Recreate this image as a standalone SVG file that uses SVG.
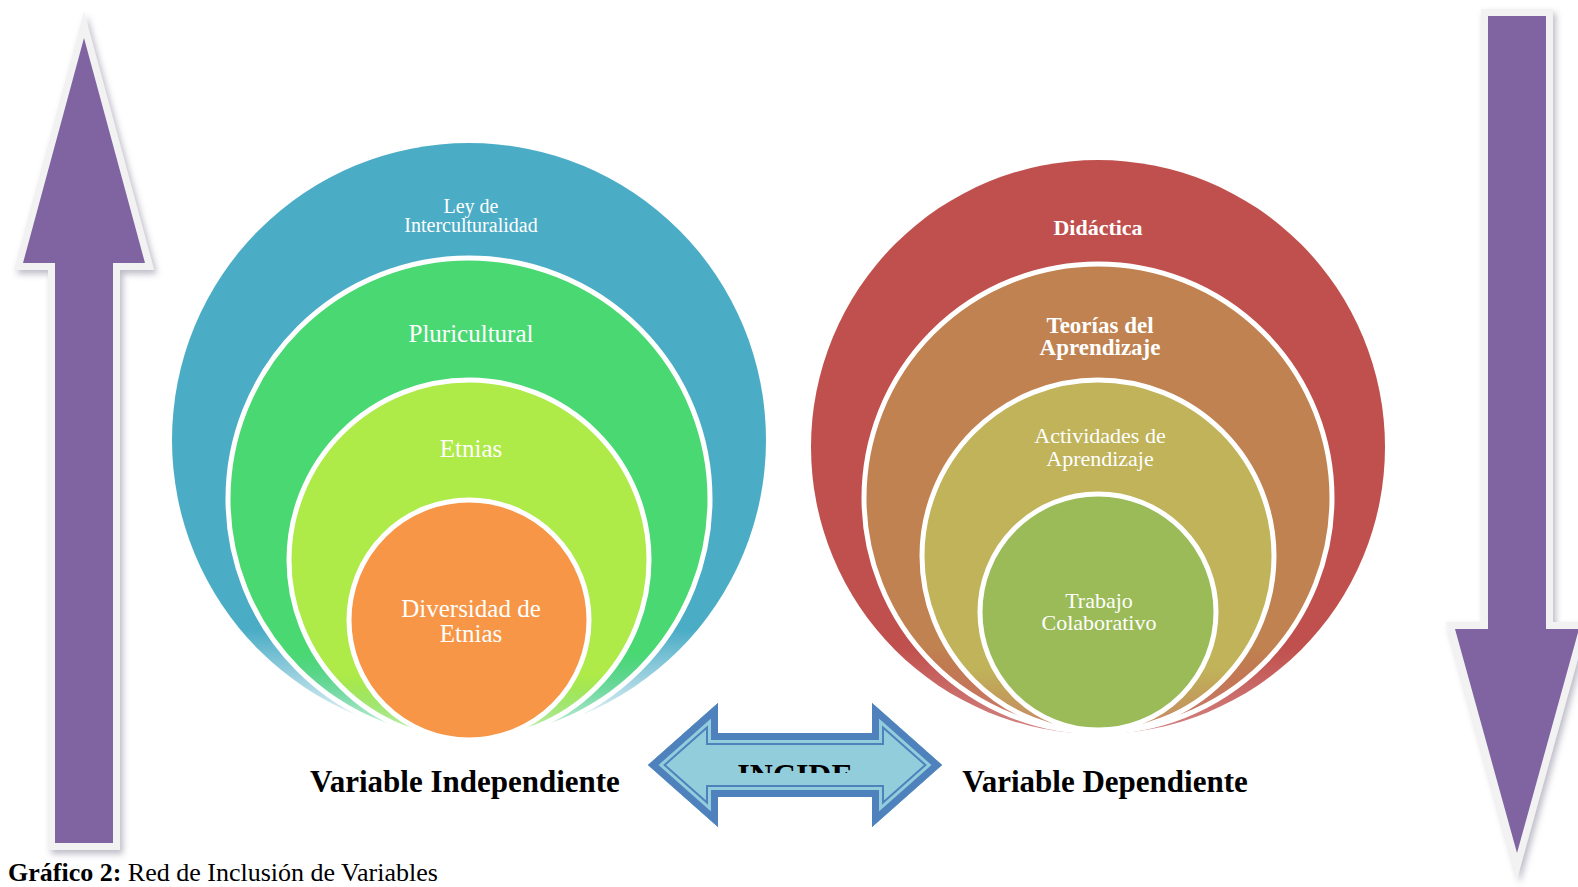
<svg xmlns="http://www.w3.org/2000/svg" width="1578" height="887" viewBox="0 0 1578 887">
<style>
.lbl{font-family:"Liberation Serif","Times New Roman",serif;fill:#ffffff;text-anchor:middle}
.b{font-weight:bold}
.var{font-family:"Liberation Serif","Times New Roman",serif;font-weight:bold;font-size:31px;fill:#000;text-anchor:middle}
.cap{font-family:"Liberation Serif","Times New Roman",serif;font-size:26px;fill:#000}
.ring{stroke:#ffffff;stroke-width:5}
.edge{stroke:#f2f2f2;stroke-width:14;stroke-linejoin:miter;stroke-miterlimit:10;fill:#f2f2f2}
.body{fill:#8064a2}
</style>
<defs>
<filter id="sh" x="-20%" y="-5%" width="150%" height="110%">
<feDropShadow dx="3" dy="4" stdDeviation="3" flood-color="#6e6a85" flood-opacity="0.45"/>
</filter>
<linearGradient id="gBlue" x1="0" y1="0" x2="0" y2="1"><stop offset="0" stop-color="#4bacc6"/><stop offset="0.82" stop-color="#4bacc6"/><stop offset="1" stop-color="#4bacc6" stop-opacity="0"/></linearGradient>
<linearGradient id="gGreen" x1="0" y1="0" x2="0" y2="1"><stop offset="0" stop-color="#4ad873"/><stop offset="0.82" stop-color="#4ad873"/><stop offset="1" stop-color="#4ad873" stop-opacity="0.1"/></linearGradient>
<linearGradient id="gLime" x1="0" y1="0" x2="0" y2="1"><stop offset="0" stop-color="#aeea48"/><stop offset="0.82" stop-color="#aeea48"/><stop offset="1" stop-color="#aeea48" stop-opacity="0.2"/></linearGradient>
<linearGradient id="gRed" x1="0" y1="0" x2="0" y2="1"><stop offset="0" stop-color="#c0504d"/><stop offset="0.85" stop-color="#c0504d"/><stop offset="1" stop-color="#c0504d" stop-opacity="0.7"/></linearGradient>
<linearGradient id="gBrown" x1="0" y1="0" x2="0" y2="1"><stop offset="0" stop-color="#c08250"/><stop offset="0.82" stop-color="#c08250"/><stop offset="1" stop-color="#c08250" stop-opacity="0.1"/></linearGradient>
<linearGradient id="gOlive" x1="0" y1="0" x2="0" y2="1"><stop offset="0" stop-color="#c0b35a"/><stop offset="0.82" stop-color="#c0b35a"/><stop offset="1" stop-color="#c0b35a" stop-opacity="0.2"/></linearGradient>
<polygon id="upA" points="84,38 145,263 113,263 113,843 55,843 55,263 23,263"/>
<polygon id="downA" points="1488,16 1546,16 1546,629 1579,629 1517,853 1455,629 1488,629"/>
<polygon id="dbl" points="648,765 718,703 718,733 872,733 872,703 942,765 872,827 872,797 718,797 718,827"/>
<clipPath id="dblClip"><use href="#dbl"/></clipPath>
<clipPath id="txtClip"><rect x="600" y="600" width="400" height="173"/></clipPath>
</defs>
<rect width="1578" height="887" fill="#ffffff"/>

<g id="arrow-up">
<use href="#upA" class="edge" filter="url(#sh)"/>
<use href="#upA" class="body"/>
</g>
<g id="arrow-down">
<use href="#downA" class="edge" filter="url(#sh)"/>
<use href="#downA" class="body"/>
</g>

<g id="ind-ley">
<circle cx="469" cy="440" r="297" fill="url(#gBlue)"/>
<text class="lbl" font-size="20" x="471" y="213">Ley  de</text>
<text class="lbl" font-size="20" x="471" y="232">Interculturalidad</text>
</g>
<g id="ind-pluricultural">
<circle class="ring" cx="469" cy="499" r="241" fill="url(#gGreen)"/>
<text class="lbl" font-size="25" x="471" y="342">Pluricultural</text>
</g>
<g id="ind-etnias">
<circle class="ring" cx="469" cy="560" r="180" fill="url(#gLime)"/>
<text class="lbl" font-size="25" x="471" y="457">Etnias</text>
</g>
<g id="ind-diversidad">
<circle class="ring" cx="469" cy="620" r="120" fill="#f79646"/>
<text class="lbl" font-size="25" x="471" y="617">Diversidad de</text>
<text class="lbl" font-size="25" x="471" y="642">Etnias</text>
</g>

<g id="dep-didactica">
<circle cx="1098" cy="447" r="287" fill="url(#gRed)"/>
<text class="lbl b" font-size="22" x="1098" y="235">Didáctica</text>
</g>
<g id="dep-teorias">
<circle class="ring" cx="1098" cy="498" r="234" fill="url(#gBrown)"/>
<text class="lbl b" font-size="23" x="1100" y="333">Teorías del</text>
<text class="lbl b" font-size="23" x="1100" y="355">Aprendizaje</text>
</g>
<g id="dep-actividades">
<circle class="ring" cx="1098" cy="556" r="176" fill="url(#gOlive)"/>
<text class="lbl" font-size="22" x="1100" y="443">Actividades de</text>
<text class="lbl" font-size="22" x="1100" y="466">Aprendizaje</text>
</g>
<g id="dep-trabajo">
<circle class="ring" cx="1098" cy="612" r="118" fill="#9bbb59"/>
<text class="lbl" font-size="22" x="1099" y="608">Trabajo</text>
<text class="lbl" font-size="22" x="1099" y="630">Colaborativo</text>
</g>

<g id="connectors">
<g id="incide">
<use href="#dbl" fill="#92cddc"/>
<use href="#dbl" fill="none" stroke="#4f81bd" stroke-width="24" clip-path="url(#dblClip)"/>
<use href="#dbl" fill="none" stroke="#92cddc" stroke-width="20" clip-path="url(#dblClip)"/>
<use href="#dbl" fill="none" stroke="#4f81bd" stroke-width="14" clip-path="url(#dblClip)"/>
<text x="795" y="786" clip-path="url(#txtClip)" style="font-family:'Liberation Serif','Times New Roman',serif;font-weight:bold;font-size:32px;fill:#000;text-anchor:middle">INCIDE</text>
</g>
</g>

<text class="var" x="465" y="792">Variable Independiente</text>
<text class="var" x="1105" y="792">Variable Dependiente</text>

<text class="cap" x="8" y="881"><tspan font-weight="bold">Gráfico 2:</tspan> Red de Inclusión de Variables</text>
</svg>
